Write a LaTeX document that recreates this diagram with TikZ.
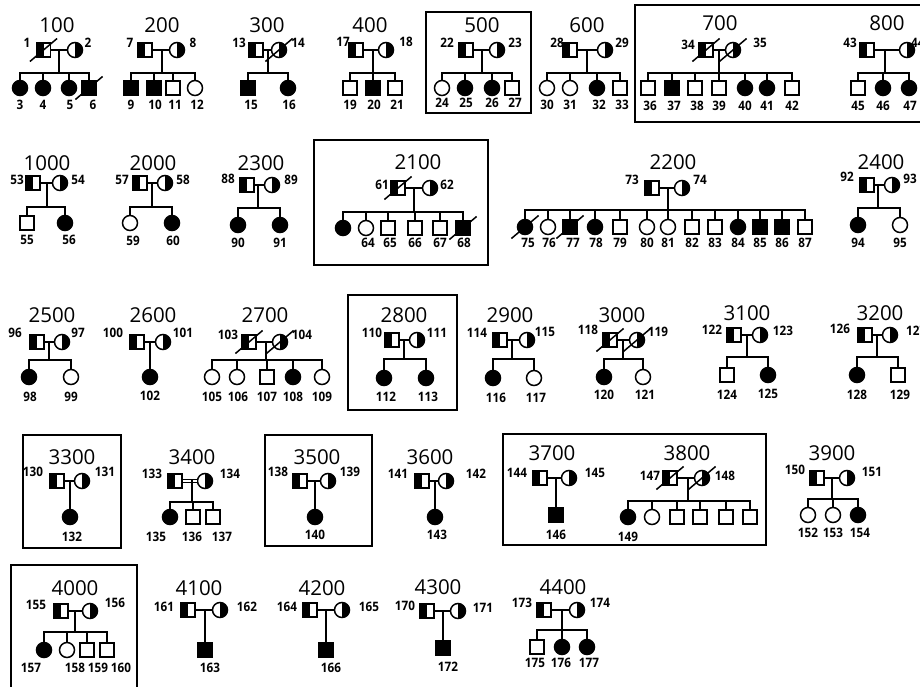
\documentclass[tikz,border=0pt]{standalone}
\usepackage{fontspec}
\setmainfont{Open Sans}
\newfontfamily\labfont[FakeStretch=0.9]{Open Sans}
\usetikzlibrary{calc}
\tikzset{
 ln/.style={line width=1.5pt, line cap=rect},
 per/.style={draw, line width=1.5pt, inner sep=0pt},
 sqO/.style={per, rectangle, minimum size=14pt},
 sqF/.style={sqO, fill=black},
 sqC/.style={sqO, path picture={\fill[black] (path picture bounding box.south west) rectangle (path picture bounding box.north);}},
 ciO/.style={per, circle, minimum size=15pt},
 ciF/.style={ciO, fill=black},
 ciC/.style={ciO, path picture={\fill[black] (path picture bounding box.south) rectangle (path picture bounding box.north east);}},
 lab/.style={font=\labfont\bfseries\fontsize{13}{13}\selectfont, inner sep=0pt},
 ttl/.style={font=\fontsize{20.5}{20.5}\selectfont, inner sep=0pt},
 framebox/.style={draw, line width=1.5pt},
}
\newcommand\pers[4]{\node[#1] (#2) at (#3,#4) {};}
\newcommand\plab[3]{\node[lab] (l#1) at (#2,#3) {#1};}
\newcommand\ptitle[3]{\node[ttl] (t#1) at (#2,#3) {#1};}
\newcommand\dead[1]{\draw[ln] ([shift={(-13,11)}]#1.center) -- ([shift={(13,-11)}]#1.center);}
\newcommand\famly[7]{%
  \draw[ln] (#1) -- (#2);
  \coordinate (s#1) at (#3,#4);
  \coordinate (m#1) at (#1 -| s#1);
  \draw[ln] (m#1) -- (s#1);
  \draw[ln] (#5 |- s#1) -- (#6 |- s#1);
  \foreach \c in {#7} {\draw[ln] (\c |- s#1) -- (\c);}
}
\newcommand\onechild[3]{%
  \draw[ln] (#1) -- (#2);
  \draw[ln] (#3 |- #1) -- (#3);
}
\begin{document}
\begin{tikzpicture}[x=1pt,y=-1pt]
\useasboundingbox[fill=white] (0,0) rectangle (920,687);
% ===== Row 1 =====
% 100
\ptitle{100}{57}{25}
\pers{sqC}{n1}{43.5}{50}\pers{ciC}{n2}{75}{50}
\plab{1}{27}{43}\plab{2}{88}{43}
\pers{ciF}{n3}{20}{88}\pers{ciF}{n4}{43}{88}\pers{ciF}{n5}{69}{88}\pers{sqF}{n6}{89}{88}
\famly{n1}{n2}{59}{73}{n3}{n6}{n3,n4,n5,n6}
\dead{n1}\dead{n6}
\plab{3}{20}{105}\plab{4}{43}{105}\plab{5}{70}{105}\plab{6}{93}{105}
% 200
\ptitle{200}{162}{25}
\pers{sqC}{n7}{145}{50}\pers{ciC}{n8}{177}{50}
\plab{7}{130}{43}\plab{8}{193}{43}
\pers{sqF}{n9}{131}{88}\pers{sqF}{n10}{154}{88}\pers{sqO}{n11}{173}{88}\pers{ciO}{n12}{195}{88}
\famly{n7}{n8}{162}{73}{n9}{n12}{n9,n10,n11,n12}
\plab{9}{131}{105}\plab{10}{155}{105}\plab{11}{175}{105}\plab{12}{197}{105}
% 300
\ptitle{300}{267}{25}
\pers{sqC}{n13}{256}{50}\pers{ciC}{n14}{279}{50}
\plab{13}{239}{43}\plab{14}{298}{43}
\pers{sqF}{n15}{248}{88}\pers{ciF}{n16}{288}{88}
\famly{n13}{n14}{268}{73}{n15}{n16}{n15,n16}
\dead{n14}
\plab{15}{251}{105}\plab{16}{289}{105}
% 400
\ptitle{400}{370}{25}
\pers{sqC}{n17}{356}{50}\pers{ciC}{n18}{386}{50}
\plab{17}{343}{42}\plab{18}{406}{42}
\pers{sqO}{n19}{350}{88}\pers{sqF}{n20}{373}{88}\pers{sqO}{n21}{395}{88}
\famly{n17}{n18}{373}{73}{n19}{n21}{n19,n20,n21}
\plab{19}{350}{105}\plab{20}{374}{105}\plab{21}{397}{105}
% 500
\draw[framebox] (426,12) rectangle (531,113);
\ptitle{500}{482}{25}
\pers{sqC}{n22}{466}{50}\pers{ciC}{n23}{497}{50}
\plab{22}{447}{43}\plab{23}{515}{43}
\pers{ciO}{n24}{442}{88}\pers{ciF}{n25}{465}{88}\pers{ciF}{n26}{492}{88}\pers{sqO}{n27}{512}{88}
\famly{n22}{n23}{482}{73}{n24}{n27}{n24,n25,n26,n27}
\plab{24}{442}{103}\plab{25}{466}{103}\plab{26}{492}{103}\plab{27}{515}{103}
% 600
\ptitle{600}{587}{25}
\pers{sqC}{n28}{570}{50}\pers{ciC}{n29}{605}{50}
\plab{28}{557}{43}\plab{29}{622}{43}
\pers{ciO}{n30}{547}{88}\pers{ciO}{n31}{570}{88}\pers{ciF}{n32}{597}{88}\pers{sqO}{n33}{620}{88}
\famly{n28}{n29}{587}{73}{n30}{n33}{n30,n31,n32,n33}
\plab{30}{547}{105}\plab{31}{570}{105}\plab{32}{599}{105}\plab{33}{622}{105}
% 700 / 800
\draw[framebox] (635,5) rectangle (930,122);
\ptitle{700}{720}{23}
\pers{sqC}{n34}{706}{50}\pers{ciC}{n35}{733}{50}
\plab{34}{688}{45}\plab{35}{760}{43}
\pers{sqO}{n36}{648}{88}\pers{sqF}{n37}{672}{88}\pers{sqO}{n38}{695}{88}\pers{sqO}{n39}{719}{88}
\pers{ciF}{n40}{745}{88}\pers{ciF}{n41}{767}{88}\pers{sqO}{n42}{792}{88}
\famly{n34}{n35}{719}{73}{n36}{n42}{n36,n37,n38,n39,n40,n41,n42}
\dead{n34}\dead{n35}
\plab{36}{650}{106}\plab{37}{674}{106}\plab{38}{697}{106}\plab{39}{719}{106}\plab{40}{745}{106}\plab{41}{767}{106}\plab{42}{792}{106}
\ptitle{800}{887}{23}
\pers{sqC}{n43}{867}{50}\pers{ciC}{n44}{907}{50}
\plab{43}{850}{43}\node[lab, anchor=west] (l44) at (911,43) {44};
\pers{sqO}{n45}{858}{88}\pers{ciF}{n46}{883}{88}\pers{ciF}{n47}{909}{88}
\famly{n43}{n44}{885}{73}{n45}{n47}{n45,n46,n47}
\plab{45}{858}{106}\plab{46}{883}{106}\plab{47}{910}{106}
% ===== Row 2 =====
% 1000
\ptitle{1000}{47}{163}
\pers{sqC}{n53}{33}{183}\pers{ciC}{n54}{60}{183}
\plab{53}{17}{180}\plab{54}{78}{180}
\pers{sqO}{n55}{27}{223}\pers{ciF}{n56}{65}{223}
\famly{n53}{n54}{47}{207}{n55}{n56}{n55,n56}
\plab{55}{27}{240}\plab{56}{69}{240}
% 2000
\ptitle{2000}{153}{163}
\pers{sqC}{n57}{140}{183}\pers{ciC}{n58}{165}{183}
\plab{57}{122}{180}\plab{58}{183}{180}
\pers{ciO}{n59}{130}{223}\pers{ciF}{n60}{172}{223}
\famly{n57}{n58}{152}{207}{n59}{n60}{n59,n60}
\plab{59}{133}{241}\plab{60}{173}{241}
% 2300
\ptitle{2300}{261}{163}
\pers{sqC}{n88}{247}{185}\pers{ciC}{n89}{272}{185}
\plab{88}{228}{179}\plab{89}{291}{180}
\pers{ciF}{n90}{238}{225}\pers{ciF}{n91}{280}{225}
\famly{n88}{n89}{258}{208}{n90}{n91}{n90,n91}
\plab{90}{238}{243}\plab{91}{280}{243}
% 2100
\draw[framebox] (314,140) rectangle (488,265);
\ptitle{2100}{418}{162}
\pers{sqC}{n61}{398}{188}\pers{ciC}{n62}{430}{188}
\plab{61}{382}{185}\plab{62}{447}{185}
\pers{ciF}{n63}{343}{228}\pers{ciO}{n64}{366}{228}\pers{sqO}{n65}{388}{228}\pers{sqO}{n66}{415}{228}\pers{sqO}{n67}{440}{228}\pers{sqF}{n68}{463}{228}
\famly{n61}{n62}{414}{212}{n63}{n68}{n63,n64,n65,n66,n67,n68}
\dead{n61}\dead{n68}
\plab{64}{368}{243}\plab{65}{390}{243}\plab{66}{415}{243}\plab{67}{440}{243}\plab{68}{464}{243}
% 2200
\ptitle{2200}{673}{162}
\pers{sqC}{n73}{652}{188}\pers{ciC}{n74}{682}{188}
\plab{73}{632}{180}\plab{74}{700}{180}
\pers{ciF}{n75}{525}{227}\pers{ciO}{n76}{548}{227}\pers{sqF}{n77}{570}{227}\pers{ciF}{n78}{595}{227}
\pers{sqO}{n79}{620}{227}\pers{ciO}{n80}{647}{227}\pers{ciO}{n81}{668}{227}\pers{sqO}{n82}{692}{227}
\pers{sqO}{n83}{715}{227}\pers{ciF}{n84}{738}{227}\pers{sqF}{n85}{760}{227}\pers{sqF}{n86}{782}{227}\pers{sqO}{n87}{805}{227}
\famly{n73}{n74}{668}{210}{n75}{n87}{n75,n76,n77,n78,n79,n80,n81,n82,n83,n84,n85,n86,n87}
\dead{n75}\dead{n77}
\plab{75}{528}{243}\plab{76}{549}{243}\plab{77}{573}{243}\plab{78}{596}{243}\plab{79}{620}{243}
\plab{80}{647}{243}\plab{81}{668}{243}\plab{82}{692}{243}\plab{83}{715}{243}\plab{84}{738}{243}
\plab{85}{760}{243}\plab{86}{782}{243}\plab{87}{805}{243}
% 2400
\ptitle{2400}{881}{162}
\pers{sqC}{n92}{867}{185}\pers{ciC}{n93}{892}{185}
\plab{92}{847}{177}\plab{93}{910}{179}
\pers{ciF}{n94}{858}{225}\pers{ciO}{n95}{900}{225}
\famly{n92}{n93}{878}{208}{n94}{n95}{n94,n95}
\plab{94}{858}{243}\plab{95}{900}{243}
% ===== Row 3 =====
% 2500
\ptitle{2500}{52}{315}
\pers{sqC}{n96}{37}{342}\pers{ciC}{n97}{62}{342}
\plab{96}{15}{333}\plab{97}{78}{333}
\pers{ciF}{n98}{29}{377}\pers{ciO}{n99}{71}{377}
\famly{n96}{n97}{49}{360}{n98}{n99}{n98,n99}
\plab{98}{30}{397}\plab{99}{71}{397}
% 2600
\ptitle{2600}{153}{315}
\pers{sqC}{n100}{137}{342}\pers{ciC}{n101}{163}{342}
\plab{100}{113}{333}\plab{101}{183}{333}
\pers{ciF}{n102}{150}{377}
\onechild{n100}{n101}{n102}
\plab{102}{150}{396}
% 2700
\ptitle{2700}{265}{315}
\pers{sqC}{n103}{249}{342}\pers{ciC}{n104}{280}{342}
\plab{103}{228}{335}\plab{104}{302}{335}
\pers{ciO}{n105}{212}{377}\pers{ciO}{n106}{237}{377}\pers{sqO}{n107}{267}{377}\pers{ciF}{n108}{293}{377}\pers{ciO}{n109}{322}{377}
\famly{n103}{n104}{266}{360}{n105}{n109}{n105,n106,n107,n108,n109}
\dead{n103}\dead{n104}
\plab{105}{212}{397}\plab{106}{238}{397}\plab{107}{267}{397}\plab{108}{293}{397}\plab{109}{322}{397}
% 2800
\draw[framebox] (348,295) rectangle (457,410);
\ptitle{2800}{404}{315}
\pers{sqC}{n110}{392}{340}\pers{ciC}{n111}{417}{340}
\plab{110}{372}{333}\plab{111}{437}{333}
\pers{ciF}{n112}{384}{378}\pers{ciF}{n113}{426}{378}
\famly{n110}{n111}{404}{359}{n112}{n113}{n112,n113}
\plab{112}{386}{397}\plab{113}{428}{397}
% 2900
\ptitle{2900}{510}{315}
\pers{sqC}{n114}{500}{340}\pers{ciC}{n115}{527}{340}
\plab{114}{477}{333}\plab{115}{545}{332}
\pers{ciF}{n116}{493}{378}\pers{ciO}{n117}{534}{378}
\famly{n114}{n115}{512}{359}{n116}{n117}{n116,n117}
\plab{116}{496}{398}\plab{117}{536}{398}
% 3000
\ptitle{3000}{622}{315}
\pers{sqC}{n118}{610}{340}\pers{ciC}{n119}{637}{340}
\plab{118}{588}{330}\plab{119}{658}{332}
\pers{ciF}{n120}{604}{377}\pers{ciO}{n121}{643}{377}
\famly{n118}{n119}{623}{359}{n120}{n121}{n120,n121}
\dead{n118}\dead{n119}
\plab{120}{604}{395}\plab{121}{645}{395}
% 3100
\ptitle{3100}{747}{313}
\pers{sqC}{n122}{734}{335}\pers{ciC}{n123}{760}{335}
\plab{122}{712}{330}\plab{123}{783}{331}
\pers{sqO}{n124}{727}{375}\pers{ciF}{n125}{768}{375}
\famly{n122}{n123}{747}{357}{n124}{n125}{n124,n125}
\plab{124}{727}{395}\plab{125}{768}{394}
% 3200
\ptitle{3200}{880}{313}
\pers{sqC}{n126}{865}{335}\pers{ciC}{n127}{890}{335}
\plab{126}{840}{329}\node[lab, anchor=west] (l127) at (906,331) {127};
\pers{ciF}{n128}{857}{375}\pers{sqO}{n129}{898}{375}
\famly{n126}{n127}{877}{357}{n128}{n129}{n128,n129}
\plab{128}{857}{395}\plab{129}{900}{395}
% ===== Row 4 =====
% 3300
\draw[framebox] (23,435) rectangle (121,548);
\ptitle{3300}{72}{457}
\pers{sqC}{n130}{57}{481}\pers{ciC}{n131}{82}{481}
\plab{130}{33}{472}\plab{131}{105}{472}
\pers{ciF}{n132}{70}{517}
\onechild{n130}{n131}{n132}
\plab{132}{72}{537}
% 3400
\ptitle{3400}{192}{457}
\pers{sqC}{n133}{175}{481}\pers{ciC}{n134}{205}{481}
\plab{133}{152}{474}\plab{134}{230}{474}
\pers{ciF}{n135}{170}{517}\pers{sqO}{n136}{193}{517}\pers{sqO}{n137}{213}{517}
\coordinate (s133) at (192,502);
\draw[double, double distance=2pt, line width=1pt] (n133) -- (n134);
\draw[ln] (n133 -| s133) -- (s133);
\draw[ln] (n135 |- s133) -- (n137 |- s133);
\foreach \c in {n135,n136,n137} {\draw[ln] (\c |- s133) -- (\c);}
\plab{135}{156}{537}\plab{136}{192}{537}\plab{137}{222}{537}
% 3500
\draw[framebox] (265,435) rectangle (372,546);
\ptitle{3500}{317}{457}
\pers{sqC}{n138}{300}{481}\pers{ciC}{n139}{328}{481}
\plab{138}{278}{472}\plab{139}{350}{472}
\pers{ciF}{n140}{315}{517}
\onechild{n138}{n139}{n140}
\plab{140}{315}{535}
% 3600
\ptitle{3600}{430}{457}
\pers{sqC}{n141}{422}{481}\pers{ciC}{n142}{446}{481}
\plab{141}{398}{474}\plab{142}{476}{474}
\pers{ciF}{n143}{435}{517}
\onechild{n141}{n142}{n143}
\plab{143}{437}{535}
% 3700 / 3800
\draw[framebox] (503,434) rectangle (766,545);
\ptitle{3700}{552}{453}
\pers{sqC}{n144}{540}{478}\pers{ciC}{n145}{569}{478}
\plab{144}{517}{473}\plab{145}{595}{473}
\pers{sqF}{n146}{556}{515}
\onechild{n144}{n145}{n146}
\plab{146}{556}{535}
\ptitle{3800}{687}{453}
\pers{sqC}{n147}{670}{478}\pers{ciC}{n148}{702}{478}
\plab{147}{650}{476}\plab{148}{725}{476}
\pers{ciF}{n149}{628}{517}\pers{ciO}{n3801}{652}{517}\pers{sqO}{n3802}{677}{517}\pers{sqO}{n3803}{700}{517}\pers{sqO}{n3804}{726}{517}\pers{sqO}{n3805}{750}{517}
\famly{n147}{n148}{688}{501}{n149}{n3805}{n149,n3801,n3802,n3803,n3804,n3805}
\dead{n147}\dead{n148}
\plab{149}{628}{537}
% 3900
\ptitle{3900}{832}{453}
\pers{sqC}{n150}{817}{478}\pers{ciC}{n151}{847}{478}
\plab{150}{795}{470}\plab{151}{872}{472}
\pers{ciO}{n152}{808}{515}\pers{ciO}{n153}{833}{515}\pers{ciF}{n154}{858}{515}
\famly{n150}{n151}{832}{499}{n152}{n154}{n152,n153,n154}
\plab{152}{808}{533}\plab{153}{833}{533}\plab{154}{860}{533}
% ===== Row 5 =====
% 4000
\draw[framebox] (11,692) -- (11,565) -- (137,565) -- (137,692);
\ptitle{4000}{75}{588}
\pers{sqC}{n155}{61}{611}\pers{ciC}{n156}{90}{611}
\plab{155}{36}{605}\plab{156}{115}{603}
\pers{ciF}{n157}{44}{650}\pers{ciO}{n158}{67}{650}\pers{sqO}{n159}{87}{650}\pers{sqO}{n160}{107}{650}
\famly{n155}{n156}{75}{632}{n157}{n160}{n157,n158,n159,n160}
\plab{157}{31}{668}\plab{158}{75}{668}\plab{159}{98}{668}\plab{160}{121}{668}
% 4100
\ptitle{4100}{199}{588}
\pers{sqC}{n161}{188}{610}\pers{ciC}{n162}{220}{610}
\plab{161}{164}{607}\plab{162}{247}{607}
\pers{sqF}{n163}{205}{650}
\onechild{n161}{n162}{n163}
\plab{163}{210}{668}
% 4200
\ptitle{4200}{322}{588}
\pers{sqC}{n164}{310}{610}\pers{ciC}{n165}{342}{610}
\plab{164}{287}{607}\plab{165}{369}{607}
\pers{sqF}{n166}{326}{650}
\onechild{n164}{n165}{n166}
\plab{166}{331}{668}
% 4300
\ptitle{4300}{438}{587}
\pers{sqC}{n170}{427}{611}\pers{ciC}{n171}{458}{611}
\plab{170}{405}{606}\plab{171}{483}{608}
\pers{sqF}{n172}{443}{648}
\onechild{n170}{n171}{n172}
\plab{172}{448}{667}
% 4400
\ptitle{4400}{563}{587}
\pers{sqC}{n173}{544}{610}\pers{ciC}{n174}{577}{610}
\plab{173}{522}{603}\plab{174}{600}{603}
\pers{sqO}{n175}{537}{647}\pers{ciF}{n176}{562}{647}\pers{ciF}{n177}{587}{647}
\famly{n173}{n174}{562}{630}{n175}{n177}{n175,n176,n177}
\plab{175}{535}{663}\plab{176}{561}{663}\plab{177}{589}{663}
\end{tikzpicture}
\end{document}
